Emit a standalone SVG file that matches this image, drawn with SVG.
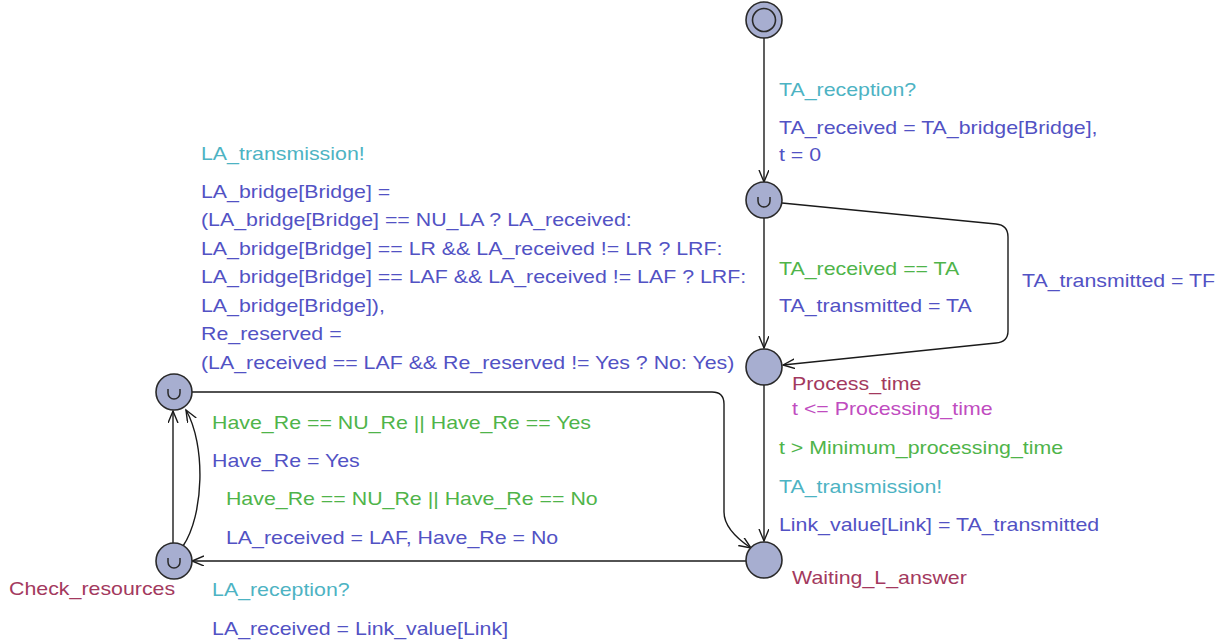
<svg xmlns="http://www.w3.org/2000/svg" width="1232" height="643" viewBox="0 0 1232 643">
<style>
  text { font-family: "Liberation Sans", Arial, sans-serif; font-size: 17.5px; }
  .sync { fill: #4db3c3; }
  .upd { fill: #5252c4; }
  .grd { fill: #4fb44a; }
  .name { fill: #a3395e; }
  .inv { fill: #c04cc0; }
  .loc { fill: #a7aed0; stroke: #2a2a2a; stroke-width: 1.6; }
  .edge { fill: none; stroke: #1a1a1a; stroke-width: 1.4; marker-end: url(#arr); }
  .csym { fill: none; stroke: #2a2a2a; stroke-width: 1.5; }
</style>
<defs>
  <marker id="arr" markerUnits="userSpaceOnUse" markerWidth="14" markerHeight="12" refX="12" refY="5" orient="auto">
    <path d="M0,0 L12,5 L0,10" fill="none" stroke="#1a1a1a" stroke-width="1.4"/>
  </marker>
  <path id="usym" d="M -6 -4 L -6 0 A 6 6 0 0 0 6 0 L 6 -4"/>
</defs>
<rect width="1232" height="643" fill="#ffffff"/>

<g id="connectors">
  <path class="edge" d="M 764 38 L 764 182"/>
  <path class="edge" d="M 764 218 L 764 348"/>
  <path class="edge" d="M 782 203 L 996 224 Q 1008 225 1008 237 L 1008 331 Q 1008 342 996 343 L 783 365"/>
  <path class="edge" d="M 764 385 L 764 541"/>
  <path class="edge" d="M 746 561 L 192 561"/>
  <path class="edge" d="M 173 543 L 173 411"/>
  <path class="edge" d="M 183 546 C 204 515, 206 445, 186 410"/>
  <path class="edge" d="M 192 392 L 712 392 Q 724 392 724 404 L 724 512 Q 724 530 751 548"/>
</g>

<g id="edge-labels">
  <g transform="scale(1.22 1)">
    <text class="sync" x="638.5" y="96">TA_reception?</text>
    <text class="upd" x="638.5" y="134">TA_received = TA_bridge[Bridge],</text>
    <text class="upd" x="638.5" y="161">t = 0</text>

    <text class="grd" x="638.5" y="275">TA_received == TA</text>
    <text class="upd" x="638.5" y="312">TA_transmitted = TA</text>
    <text class="upd" x="837.7" y="287">TA_transmitted = TF</text>

    <text class="grd" x="638.5" y="454">t &gt; Minimum_processing_time</text>
    <text class="sync" x="638.5" y="493">TA_transmission!</text>
    <text class="upd" x="638.5" y="531">Link_value[Link] = TA_transmitted</text>

    <text class="sync" x="164.75" y="160">LA_transmission!</text>
    <text class="upd" x="164.75" y="198">LA_bridge[Bridge] =</text>
    <text class="upd" x="164.75" y="226.5">(LA_bridge[Bridge] == NU_LA ? LA_received:</text>
    <text class="upd" x="164.75" y="255">LA_bridge[Bridge] == LR &amp;&amp; LA_received != LR ? LRF:</text>
    <text class="upd" x="164.75" y="283.5">LA_bridge[Bridge] == LAF &amp;&amp; LA_received != LAF ? LRF:</text>
    <text class="upd" x="164.75" y="312">LA_bridge[Bridge]),</text>
    <text class="upd" x="164.75" y="340.5">Re_reserved =</text>
    <text class="upd" x="164.75" y="369">(LA_received == LAF &amp;&amp; Re_reserved != Yes ? No: Yes)</text>

    <text class="grd" x="173.8" y="429">Have_Re == NU_Re || Have_Re == Yes</text>
    <text class="upd" x="173.8" y="467">Have_Re = Yes</text>
    <text class="grd" x="185.2" y="505">Have_Re == NU_Re || Have_Re == No</text>
    <text class="upd" x="185.2" y="544">LA_received = LAF, Have_Re = No</text>

    <text class="sync" x="173.8" y="596">LA_reception?</text>
    <text class="upd" x="173.8" y="635">LA_received = Link_value[Link]</text>
  </g>
</g>

<g id="init">
  <circle class="loc" cx="764" cy="20" r="18"/>
  <circle class="loc" cx="764" cy="20" r="11.5"/>
</g>

<g id="committed_reception">
  <circle class="loc" cx="764" cy="200" r="18"/>
  <use href="#usym" class="csym" x="764" y="201"/>
</g>

<g id="Process_time">
  <circle class="loc" cx="764" cy="367" r="18"/>
  <g transform="scale(1.22 1)">
    <text class="name" x="649.2" y="390">Process_time</text>
    <text class="inv" x="649.2" y="415">t &lt;= Processing_time</text>
  </g>
</g>

<g id="Waiting_L_answer">
  <circle class="loc" cx="764" cy="560" r="18"/>
  <g transform="scale(1.22 1)">
    <text class="name" x="649.2" y="584">Waiting_L_answer</text>
  </g>
</g>

<g id="committed_transmission">
  <circle class="loc" cx="174" cy="392" r="18"/>
  <use href="#usym" class="csym" x="174" y="393"/>
</g>

<g id="Check_resources">
  <circle class="loc" cx="174" cy="561" r="18"/>
  <use href="#usym" class="csym" x="174" y="562"/>
  <g transform="scale(1.22 1)">
    <text class="name" x="7.4" y="595">Check_resources</text>
  </g>
</g>
</svg>
